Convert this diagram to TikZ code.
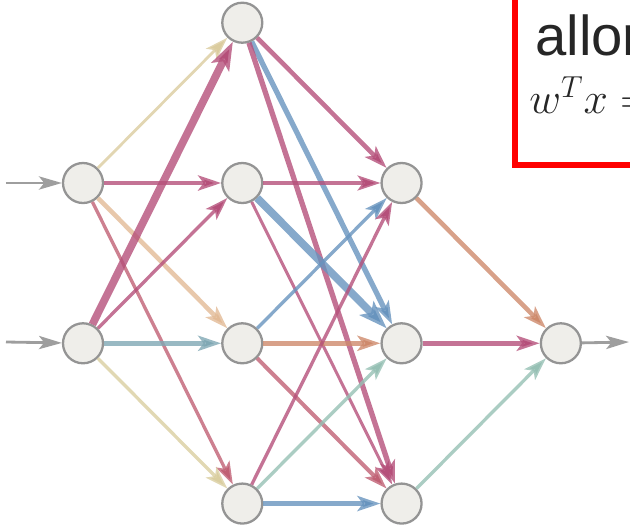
\documentclass[tikz,border=0pt]{standalone}
\usepackage{fontspec}
\setmainfont{Liberation Sans}
\usepackage{xcolor}
\usepackage{tikz}
\usetikzlibrary{arrows.meta,positioning}
\definecolor{wine}{RGB}{181,80,122}
\definecolor{steel}{RGB}{104,148,190}
\definecolor{peach}{RGB}{226,186,150}
\definecolor{sand}{RGB}{218,206,160}
\definecolor{rust}{RGB}{206,138,108}
\definecolor{sage}{RGB}{150,192,180}
\definecolor{mauve}{RGB}{192,96,116}
\definecolor{slate}{RGB}{128,168,180}
\definecolor{nodefill}{RGB}{239,238,234}

\begin{document}
\begin{tikzpicture}[node distance=2.36cm and 2.34cm, unit/.style={draw=black!42, line width=1.3pt, circle, minimum size=0.8cm, inner sep=0pt, fill=nodefill}, arr/.style={-{Stealth[length=13pt,width=8.5pt,inset=3pt]}, draw opacity=0.8}, thin/.style={arr,line width=1.9pt}, mid/.style={arr,line width=2.6pt}, thick/.style={arr,line width=4.4pt,-{Stealth[length=16pt,width=11pt,inset=3.5pt]}}, feed/.style={-{Stealth[length=13pt,width=7.5pt,inset=3pt]},line width=1.6pt,black!38}]
\clip (0,0) rectangle (12.6,-10.5);
\node[unit] (in1) at (1.66,-3.66) {};
\node[unit,below=of in1] (in2) {};
\node[unit,right=of in1] (hb) {};
\node[unit,above=of hb] (ha) {};
\node[unit,below=of hb] (hc) {};
\node[unit,below=of hc] (hd) {};
\node[unit,right=of hb] (ga) {};
\node[unit,right=of hc] (gb) {};
\node[unit,right=of hd] (gc) {};
\node[unit,right=of gb] (out) {};
\coordinate (src1) at (0.12,-3.66);
\coordinate (src2) at (0.12,-6.84);
\coordinate (sink) at (12.58,-6.84);
\draw[feed] (src1)--(in1);
\draw[feed] (src2)--(in2);
\draw[feed] (out)--(sink);
\draw[thin,sand!90!peach,line width=1.6pt] (in1)--(ha);
\draw[mid,wine] (in1)--(hb);
\draw[mid,peach] (in1)--(hc);
\draw[thin,mauve] (in1)--(hd);
\draw[thick,wine] (in2)--(ha);
\draw[thin,wine] (in2)--(hb);
\draw[mid,slate] (in2)--(hc);
\draw[thin,sand] (in2)--(hd);
\draw[mid,wine] (ha)--(ga);
\draw[mid,steel,line width=3pt] (ha)--(gb);
\draw[mid,wine,line width=3pt] (ha)--(gc);
\draw[thin,wine] (hb)--(ga);
\draw[thick,steel] (hb)--(gb);
\draw[thin,wine,line width=1.7pt] (hb)--(gc);
\draw[thin,steel] (hc)--(ga);
\draw[mid,rust] (hc)--(gb);
\draw[mid,mauve,line width=2.3pt] (hc)--(gc);
\draw[thin,wine] (hd)--(ga);
\draw[thin,sage] (hd)--(gb);
\draw[mid,steel] (hd)--(gc);
\draw[mid,rust] (ga)--(out);
\draw[mid,wine] (gb)--(out);
\draw[thin,sage] (gc)--(out);
\draw[red,line width=3.4pt] (10.3,-3.3) rectangle (13.6,0.6);
\node[anchor=base west,inner sep=0pt,text=black!85] (word) at (10.7,-1.1) {\fontsize{32}{36}\selectfont allor};
\node[anchor=base west,inner sep=0pt,text=black!85] (eq) at (10.58,-2.26) {\fontsize{25}{30}\selectfont $w^Tx=$};
\end{tikzpicture}
\end{document}
